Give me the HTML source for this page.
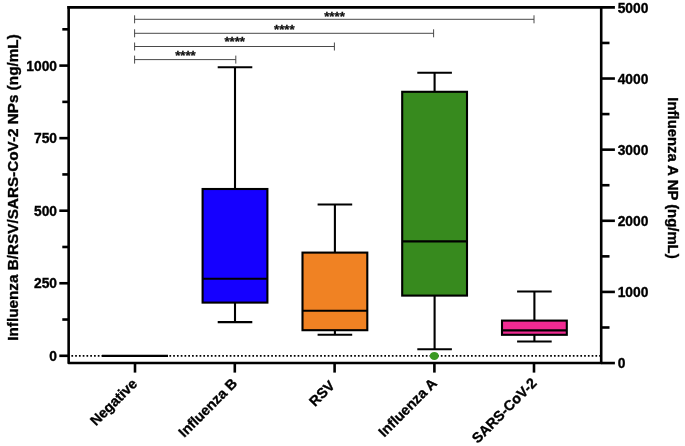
<!DOCTYPE html>
<html><head><meta charset="utf-8"><title>Box plot</title>
<style>html,body{margin:0;padding:0;background:#fff}svg{display:block}text{font-family:"Liberation Sans",Arial,Helvetica,sans-serif;font-weight:bold;fill:#000;stroke:#000;stroke-width:0.35px}</style></head><body>
<svg width="685" height="446" viewBox="0 0 685 446">
<rect width="685" height="446" fill="#fff"/>
<line x1="71.4" y1="355.8" x2="600.2" y2="355.8" stroke="#000" stroke-width="1.8" stroke-dasharray="1.7 2.07"/>
<line x1="101.9" y1="355.8" x2="168" y2="355.8" stroke="#000" stroke-width="2.2"/>
<g stroke="#000" stroke-width="2.1" fill="none">
<line x1="235.0" y1="67.2" x2="235.0" y2="322.1"/>
<line x1="217.7" y1="67.2" x2="252.3" y2="67.2"/>
<line x1="217.7" y1="322.1" x2="252.3" y2="322.1"/>
<rect x="202.6" y="189.0" width="64.8" height="113.6" fill="#1500ff"/>
<line x1="202.6" y1="278.7" x2="267.4" y2="278.7"/>
</g>
<g stroke="#000" stroke-width="2.1" fill="none">
<line x1="334.9" y1="204.5" x2="334.9" y2="334.8"/>
<line x1="317.6" y1="204.5" x2="352.2" y2="204.5"/>
<line x1="317.6" y1="334.8" x2="352.2" y2="334.8"/>
<rect x="302.5" y="252.6" width="64.8" height="77.6" fill="#f08223"/>
<line x1="302.5" y1="310.7" x2="367.3" y2="310.7"/>
</g>
<g stroke="#000" stroke-width="2.1" fill="none">
<line x1="434.6" y1="72.8" x2="434.6" y2="349.3"/>
<line x1="417.3" y1="72.8" x2="451.9" y2="72.8"/>
<line x1="417.3" y1="349.3" x2="451.9" y2="349.3"/>
<rect x="402.2" y="91.8" width="64.8" height="203.8" fill="#378a1e"/>
<line x1="402.2" y1="241.4" x2="467.0" y2="241.4"/>
</g>
<g stroke="#000" stroke-width="2.1" fill="none">
<line x1="534.4" y1="291.5" x2="534.4" y2="341.5"/>
<line x1="517.1" y1="291.5" x2="551.7" y2="291.5"/>
<line x1="517.1" y1="341.5" x2="551.7" y2="341.5"/>
<rect x="502.0" y="320.6" width="64.8" height="14.2" fill="#f12a92"/>
<line x1="502.0" y1="330.4" x2="566.8" y2="330.4"/>
</g>
<ellipse cx="434.3" cy="355.9" rx="4.5" ry="4" fill="#3a9a22"/>
<g stroke="#000" stroke-width="2.6" fill="none" stroke-linecap="butt">
<path d="M68.65 6.1 V363.05 H601.2 V6.1" stroke-linejoin="round"/>
<line x1="67.35" y1="7.4" x2="614.9" y2="7.4"/>
<line x1="601.2" y1="363.05" x2="614.9" y2="363.05"/>
<line x1="59.3" y1="355.80" x2="68.65" y2="355.80"/>
<line x1="59.3" y1="283.25" x2="68.65" y2="283.25"/>
<line x1="59.3" y1="210.70" x2="68.65" y2="210.70"/>
<line x1="59.3" y1="138.15" x2="68.65" y2="138.15"/>
<line x1="59.3" y1="65.60" x2="68.65" y2="65.60"/>
<line x1="62.3" y1="319.53" x2="68.65" y2="319.53"/>
<line x1="62.3" y1="246.98" x2="68.65" y2="246.98"/>
<line x1="62.3" y1="174.43" x2="68.65" y2="174.43"/>
<line x1="62.3" y1="101.88" x2="68.65" y2="101.88"/>
<line x1="62.3" y1="29.32" x2="68.65" y2="29.32"/>
<line x1="601.2" y1="291.92" x2="614.9" y2="291.92"/>
<line x1="601.2" y1="220.79" x2="614.9" y2="220.79"/>
<line x1="601.2" y1="149.66" x2="614.9" y2="149.66"/>
<line x1="601.2" y1="78.53" x2="614.9" y2="78.53"/>
<line x1="601.2" y1="327.49" x2="609.5" y2="327.49"/>
<line x1="601.2" y1="256.36" x2="609.5" y2="256.36"/>
<line x1="601.2" y1="185.22" x2="609.5" y2="185.22"/>
<line x1="601.2" y1="114.09" x2="609.5" y2="114.09"/>
<line x1="601.2" y1="42.96" x2="609.5" y2="42.96"/>
<line x1="135" y1="363.05" x2="135" y2="372.6"/>
<line x1="234.8" y1="363.05" x2="234.8" y2="372.6"/>
<line x1="334.6" y1="363.05" x2="334.6" y2="372.6"/>
<line x1="434.4" y1="363.05" x2="434.4" y2="372.6"/>
<line x1="534.0" y1="363.05" x2="534.0" y2="372.6"/>
</g>
<text x="57.0" y="360.90" font-size="13.8" text-anchor="end">0</text>
<text x="57.0" y="288.35" font-size="13.8" text-anchor="end">250</text>
<text x="57.0" y="215.80" font-size="13.8" text-anchor="end">500</text>
<text x="57.0" y="143.25" font-size="13.8" text-anchor="end">750</text>
<text x="57.0" y="70.70" font-size="13.8" text-anchor="end">1000</text>
<text x="617.7" y="368.25" font-size="13.8">0</text>
<text x="617.7" y="297.12" font-size="13.8">1000</text>
<text x="617.7" y="225.99" font-size="13.8">2000</text>
<text x="617.7" y="154.86" font-size="13.8">3000</text>
<text x="617.7" y="83.73" font-size="13.8">4000</text>
<text x="617.7" y="12.60" font-size="13.8">5000</text>
<text transform="translate(17.9 187.5) rotate(-90)" font-size="14.8" text-anchor="middle" textLength="306.5" lengthAdjust="spacingAndGlyphs">Influenza B/RSV/SARS-CoV-2 NPs (ng/mL)</text>
<text transform="translate(667.8 178) rotate(90)" font-size="14.7" text-anchor="middle" textLength="161.3" lengthAdjust="spacingAndGlyphs">Influenza A NP (ng/mL)</text>
<text transform="translate(138.00 384.60) rotate(-45)" font-size="14.25" text-anchor="end">Negative</text>
<text transform="translate(238.10 384.30) rotate(-45)" font-size="14.25" text-anchor="end">Influenza B</text>
<text transform="translate(335.80 386.40) rotate(-45)" font-size="14.25" text-anchor="end">RSV</text>
<text transform="translate(437.70 384.30) rotate(-45)" font-size="14.25" text-anchor="end">Influenza A</text>
<text transform="translate(537.60 384.00) rotate(-45)" font-size="14.25" text-anchor="end">SARS-CoV-2</text>
<g stroke="#404040" stroke-width="0.95" fill="none">
<path d="M134.6 55.6 V63.6 M134.6 59.6 H235.8 M235.8 55.6 V63.6"/>
<path d="M134.6 42.5 V50.5 M134.6 46.5 H334.4 M334.4 42.5 V50.5"/>
<path d="M134.6 29.3 V37.3 M134.6 33.3 H433.6 M433.6 29.3 V37.3"/>
<path d="M134.6 15.3 V23.3 M134.6 19.3 H534 M534 15.3 V23.3"/>
</g>
<text x="185.4" y="60.30" font-size="13.2" text-anchor="middle" style="stroke:#111;stroke-width:0.3px;fill:#111">****</text>
<text x="234.7" y="46.35" font-size="13.2" text-anchor="middle" style="stroke:#111;stroke-width:0.3px;fill:#111">****</text>
<text x="284.3" y="33.80" font-size="13.2" text-anchor="middle" style="stroke:#111;stroke-width:0.3px;fill:#111">****</text>
<text x="334.5" y="20.60" font-size="13.2" text-anchor="middle" style="stroke:#111;stroke-width:0.3px;fill:#111">****</text>
</svg></body></html>
